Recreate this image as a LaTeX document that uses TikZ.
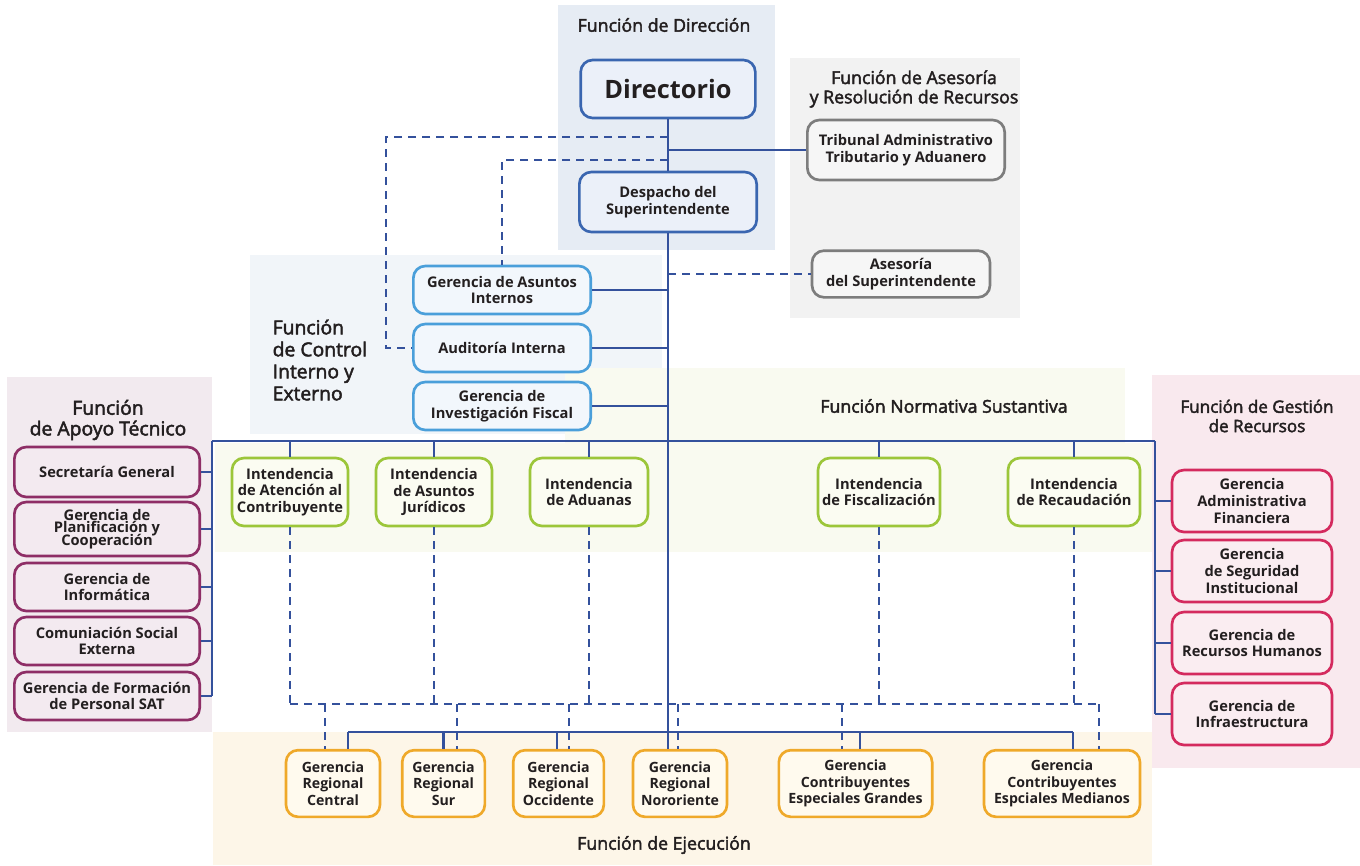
\documentclass[tikz,border=0pt]{standalone}
\usepackage{fontspec}
\setmainfont{Open Sans}
\newfontfamily\headfont{Open Sans}[FakeBold=2.4]
\definecolor{ink}{HTML}{231F20}
\definecolor{trunkcol}{HTML}{34519C}
\definecolor{dircol}{HTML}{3A66B0}
\definecolor{dirfill}{HTML}{EBF0F9}
\definecolor{grycol}{HTML}{7D7D7D}
\definecolor{gryfill}{HTML}{F6F6F6}
\definecolor{ctlcol}{HTML}{4A9FDA}
\definecolor{ctlfill}{HTML}{F2F7FC}
\definecolor{apycol}{HTML}{8E2E66}
\definecolor{apyfill}{HTML}{F3EAF0}
\definecolor{nrmcol}{HTML}{9CC63A}
\definecolor{nrmfill}{HTML}{FBFCF2}
\definecolor{gstcol}{HTML}{D42A5E}
\definecolor{gstfill}{HTML}{FAEDF1}
\definecolor{ejecol}{HTML}{EFA92A}
\definecolor{ejefill}{HTML}{FFFAEE}
% zone backgrounds
\definecolor{zdir}{HTML}{E6ECF4}
\definecolor{zase}{HTML}{F2F2F2}
\definecolor{zctl}{HTML}{F1F5F9}
\definecolor{znrm}{HTML}{F9FAF0}
\definecolor{zapy}{HTML}{F2EAEF}
\definecolor{zgst}{HTML}{F9E9EE}
\definecolor{zeje}{HTML}{FDF6E8}

\begin{document}
\begin{tikzpicture}[x=0.75pt,y=-0.75pt,
  orgbox/.style={draw,rounded corners=9pt,line width=2pt,align=center,text=ink,
    inner sep=2pt,font=\bfseries\fontsize{11}{12.5}\selectfont},
  dirbox/.style={orgbox,draw=dircol,fill=dirfill},
  grybox/.style={orgbox,draw=grycol,fill=gryfill},
  ctlbox/.style={orgbox,draw=ctlcol,fill=ctlfill,minimum width=133pt,minimum height=36pt},
  apybox/.style={orgbox,draw=apycol,fill=apyfill,minimum width=139pt},
  nrmbox/.style={orgbox,draw=nrmcol,fill=nrmfill,minimum height=51pt},
  gstbox/.style={orgbox,draw=gstcol,fill=gstfill,minimum width=120pt,minimum height=46.5pt},
  ejebox/.style={orgbox,draw=ejecol,fill=ejefill,minimum height=50pt,
    font=\bfseries\fontsize{10.6}{12.2}\selectfont},
  zone/.style={font=\headfont\fontsize{13.3}{14.5}\selectfont,text=ink,align=center},
  trunk/.style={draw=trunkcol,line width=1.7pt},
  dashline/.style={trunk,dash pattern=on 6pt off 4.5pt}]

  \useasboundingbox (0,0) rectangle (1360,865);
  \fill[white] (0,0) rectangle (1360,865);

  % Function zones
  \fill[zdir] (558,5) rectangle (775,250);
  \fill[zase] (790,58) rectangle (1020,318);
  \fill[zctl] (250,255) rectangle (662,434);
  \fill[znrm] (565,368) rectangle (1125,443);
  \fill[znrm] (215,443) rectangle (1152,552);
  \fill[zapy] (7,377) rectangle (212,732);
  \fill[zgst] (1152,375) rectangle (1360,768);
  \fill[zeje] (213,732) rectangle (1152,865);

  \node[zone] (zDir) at (664,25) {Función de Dirección};
  \node[zone] (zAse) at (914,89) {Función de Asesoría\\y Resolución de Recursos};
  \node[zone,align=left,anchor=west,font=\headfont\fontsize{14.5}{16.5}\selectfont] (zCtl) at (268,360)
    {Función\\de Control\\Interno y\\Externo};
  \node[zone,font=\headfont\fontsize{14.5}{15.5}\selectfont] (zApy) at (108,420) {Función\\de Apoyo Técnico};
  \node[zone] (zNrm) at (944,406) {Función Normativa Sustantiva};
  \node[zone,font=\headfont\fontsize{12.8}{14.5}\selectfont] (zGst) at (1257,416) {Función de Gestión\\de Recursos};
  \node[zone] (zEje) at (664,845) {Función de Ejecución};

  % Top units
  \node[dirbox,minimum width=131pt,minimum height=43.5pt,font=\bfseries\fontsize{19}{22}\selectfont]
    (dir) at (668,89) {Directorio};
  \node[dirbox,minimum width=133pt,minimum height=45pt] (desp) at (668,202) {Despacho del\\Superintendente};
  \node[grybox,minimum width=148pt,minimum height=45pt] (trib) at (906,150) {Tribunal Administrativo\\Tributario y Aduanero};
  \node[grybox,minimum width=133.5pt,minimum height=35pt] (ases) at (901,274) {Asesoría\\del Superintendente};

  % Control interno y externo
  \node[ctlbox] (gai) at (502,290) {Gerencia de Asuntos\\Internos};
  \node[ctlbox] (aud) at (502,348) {Auditoría Interna};
  \node[ctlbox] (gif) at (502,406) {Gerencia de\\Investigación Fiscal};

  % Apoyo tecnico
  \foreach \n/\y/\h/\txt in {sg/472/37.5/{Secretaría General},
      gpc/529/40.5/{Gerencia de\\[-3pt]Planificación y\\[-3pt]Cooperación},
      ginf/587/36/{Gerencia de\\Informática},
      cse/641/36/{Comuniación Social\\Externa},
      gfp/696/36/{Gerencia de Formación\\de Personal SAT}}
    \node[apybox,minimum height=\h pt] (\n) at (107,\y) {\txt};

  % Normativa sustantiva
  \foreach \n/\x/\w/\txt in {iatc/290/87/{Intendencia\\de Atención al\\Contribuyente},
      iaj/434/87/{Intendencia\\de Asuntos\\Jurídicos},
      iadu/589/88.5/{Intendencia\\de Aduanas},
      ifis/879/91.5/{Intendencia\\de Fiscalización},
      irec/1074/99/{Intendencia\\de Recaudación}}
    \node[nrmbox,minimum width=\w pt] (\n) at (\x,492) {\txt};

  % Gestion de recursos
  \foreach \n/\y/\txt in {gaf/501/{Gerencia\\Administrativa\\Financiera},
      gsi/571/{Gerencia\\de Seguridad\\Institucional},
      grh/643/{Gerencia de\\Recursos Humanos},
      ginfra/714/{Gerencia de\\Infraestructura}}
    \node[gstbox] (\n) at (1252,\y) {\txt};

  % Ejecucion
  \foreach \n/\x/\w/\txt in {grc/333/70.5/{Gerencia\\Regional\\Central},
      grs/443.5/62/{Gerencia\\Regional\\Sur},
      gro/558.5/68/{Gerencia\\Regional\\Occidente},
      grn/680/70.5/{Gerencia\\Regional\\Nororiente},
      gceg/855.5/115/{Gerencia\\Contribuyentes\\Especiales Grandes},
      gcem/1062/117/{Gerencia\\Contribuyentes\\Espciales Medianos}}
    \node[ejebox,minimum width=\w pt] (\n) at (\x,783.5) {\txt};

  % Trunk
  \draw[trunk] (dir) -- (desp);
  \draw[trunk] (desp.south) -- (desp.south |- grn.north);
  \draw[trunk] (trib.west -| dir.south) -- (trib.west);
  \draw[dashline] (ases.west -| desp.south) -- (ases.west);
  \foreach \n in {gai,aud,gif}
    \draw[trunk] (\n.east) -- (\n.east -| desp.south);

  % Dashed links to control
  \coordinate (d1) at (386,137);
  \coordinate (d2) at (502,160);
  \draw[dashline] (d1 -| dir.south) -- (d1) |- (aud.west);
  \draw[dashline] (d2 -| dir.south) -- (d2) -- (gai.north);

  % Main bus
  \coordinate (busL) at (212,441);
  \coordinate (busR) at (1155,441);
  \draw[trunk] (busL) -- (busR);
  \draw[trunk] (busL) -- (busL |- gfp.east);
  \draw[trunk] (busR) -- (busR |- ginfra.west);
  \foreach \n in {sg,gpc,ginf,cse,gfp}
    \draw[trunk] (\n.east) -- (\n.east -| busL);
  \foreach \n in {gaf,gsi,grh,ginfra}
    \draw[trunk] (\n.west) -- (\n.west -| busR);
  \foreach \n in {iatc,iaj,iadu,ifis,irec}
    \draw[trunk] (\n.north) -- (\n.north |- busL);

  % Dashed bus to regional units
  \coordinate (dbL) at (290,704);
  \coordinate (dbR) at (1099,704);
  \draw[dashline] (dbL) -- (dbR);
  \foreach \n in {iatc,iaj,iadu,ifis,irec}
    \draw[dashline] (\n.south) -- (\n.south |- dbL);
  \foreach \n/\s in {grc/-6,grs/10,gro/8,grn/-1.5,gceg/-10,gcem/27.75} {
    \coordinate (dd\n) at ([xshift=\s pt]\n.north);
    \draw[dashline] (dd\n |- dbL) -- (dd\n);
  }

  % Solid bus to regional units
  \coordinate (busB) at (0,732);
  \foreach \n/\s in {grc/11.25,grs/0,gro/-1,gceg/3.4,gcem/8.25} {
    \coordinate (ss\n) at ([xshift=\s pt]\n.north);
    \draw[trunk] (ss\n) -- (ss\n |- busB);
  }
  \draw[trunk] (ssgrc |- busB) -- (ssgcem |- busB);
\end{tikzpicture}
\end{document}
